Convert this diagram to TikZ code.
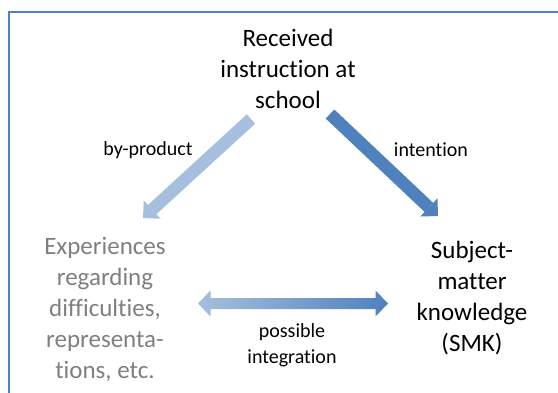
\documentclass[tikz,border=0pt]{standalone}
\usepackage{fontspec}
\setmainfont[Ligatures=NoCommon]{Carlito}
\usepackage{xcolor}
\usepackage{tikz}
\usetikzlibrary{arrows.meta,calc}
\definecolor{lightblue}{HTML}{A7BFDE}
\definecolor{darkblue}{HTML}{4F81BD}
\definecolor{greytext}{HTML}{7F7F7F}

\begin{document}
\begin{tikzpicture}[x=1pt,y=-1pt,
            box/.style={align=center,inner sep=0pt,font=\fontsize{25}{31}\selectfont},
            lbl/.style={align=center,inner sep=0pt,font=\fontsize{20}{26}\selectfont},
            fat/.style={line width=12.5pt,-{Triangle[length=12.5pt,width=25pt,line width=0pt]}}]
    \useasboundingbox (0,0) rectangle (558,392);
    \clip (0,0) rectangle (558,392);
    \draw[darkblue,line width=2pt] (9,12) rectangle (600,440);
    \node[box] (recv) at (288,69) {Received\\instruction at\\school};
    \node[box,text=greytext] (exp) at (105,309) {Experiences\\regarding\\difficulties,\\representa-\\tions, etc.};
    \node[box] (smk) at (472,298.5) {Subject-\\matter\\knowledge\\(SMK)};
    \node[lbl] (byprod) at (148,150) {by-product};
    \node[lbl] (intent) at (431,150) {intention};
    \node[lbl] (integr) at (292,345) {possible\\integration};
    \coordinate (lfrom) at (251,119);
    \coordinate (lto) at (143,218);
    \coordinate (rfrom) at (330,114);
    \coordinate (rto) at (438,216);
    \coordinate (ltip) at (198,303.5);
    \coordinate (rtip) at (388,303.5);
    \draw[fat,lightblue] (lfrom) -- (lto);
    \draw[fat,darkblue] (rfrom) -- (rto);
    \shade[left color=lightblue,right color=darkblue]
        (ltip) -- ++(12.5,-13) -- ++(0,7.5) -- ($(rtip)+(-12.5,-5.5)$) -- ++(0,-7.5)
        -- (rtip) -- ++(-12.5,13) -- ++(0,-7.5) -- ($(ltip)+(12.5,5.5)$) -- ++(0,7.5) -- cycle;
\end{tikzpicture}
\end{document}
